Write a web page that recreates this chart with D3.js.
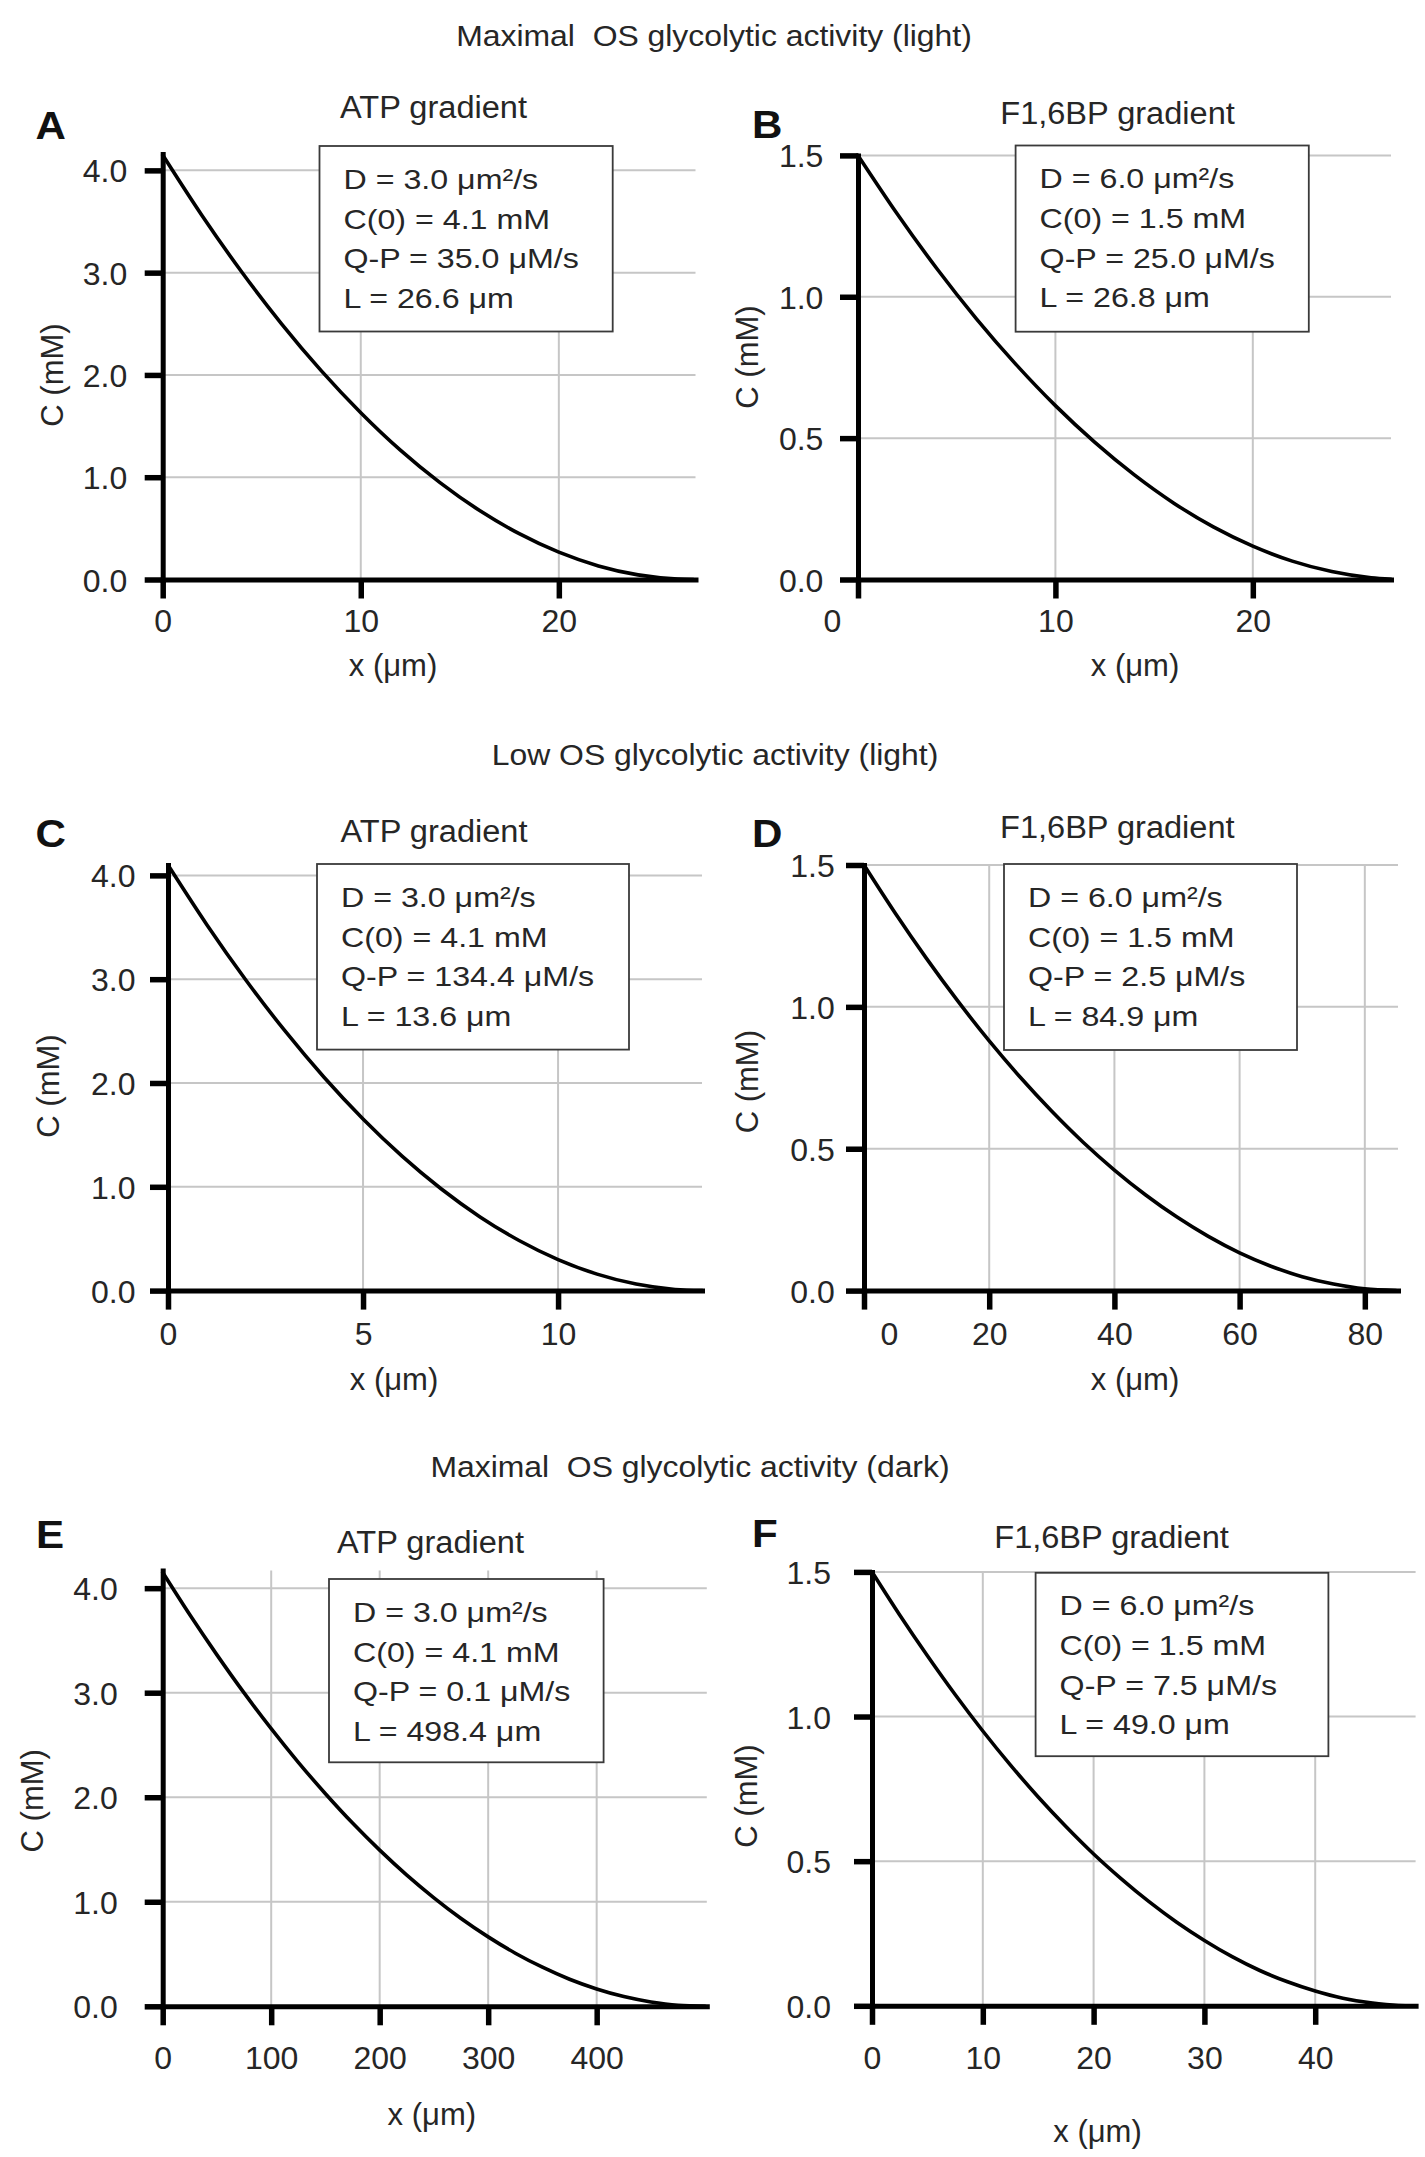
<!DOCTYPE html>
<html><head><meta charset="utf-8">
<script src="https://cdn.jsdelivr.net/npm/d3@7"></script>
<style>body{margin:0;background:#fff}svg{display:block;background:#fff}text{white-space:pre}</style>
</head><body><svg id="chart" width="1425" height="2157"></svg>
<script>
// ---------- DATA ----------
const rowTitles = ["Maximal  OS glycolytic activity (light)", "Low OS glycolytic activity (light)", "Maximal  OS glycolytic activity (dark)"];
const panelIds = ["A", "B", "C", "D", "E", "F"];
const panelTitles = ["ATP gradient", "F1,6BP gradient", "ATP gradient", "F1,6BP gradient", "ATP gradient", "F1,6BP gradient"];

// A: ATP, maximal (light)
const xA = [0, 2, 4, 6, 8, 10, 12, 14, 16, 18, 20, 22, 24, 26, 26.8];
const cA = [4.15, 3.554, 3.004, 2.500, 2.042, 1.631, 1.265, 0.947, 0.674, 0.448, 0.267, 0.133, 0.045, 0.004, 0];
// B: F1,6BP, maximal (light)
const xB = [0, 2, 4, 6, 8, 10, 12, 14, 16, 18, 20, 22, 24, 26, 27];
const cB = [1.50, 1.292, 1.099, 0.922, 0.761, 0.615, 0.485, 0.370, 0.270, 0.186, 0.118, 0.065, 0.028, 0.006, 0.001];
// C: ATP, low (light)
const xC = [0, 1, 2, 3, 4, 5, 6, 7, 8, 9, 10, 11, 12, 13, 13.7];
const cC = [4.10, 3.523, 2.990, 2.501, 2.055, 1.653, 1.295, 0.981, 0.710, 0.483, 0.299, 0.159, 0.063, 0.011, 0];
// D: F1,6BP, low (light)
const xD = [0, 5, 10, 15, 20, 25, 30, 35, 40, 45, 50, 55, 60, 65, 70, 75, 80, 85];
const cD = [1.50, 1.330, 1.170, 1.020, 0.880, 0.751, 0.632, 0.523, 0.425, 0.337, 0.259, 0.191, 0.133, 0.086, 0.049, 0.023, 0.006, 0];
// E: ATP, maximal (dark)
const xE = [0, 25, 50, 75, 100, 125, 150, 175, 200, 225, 250, 275, 300, 325, 350, 375, 400, 425, 450, 475, 500];
const cE = [4.15, 3.745, 3.362, 2.998, 2.656, 2.334, 2.034, 1.753, 1.494, 1.255, 1.038, 0.840, 0.664, 0.508, 0.374, 0.259, 0.166, 0.093, 0.042, 0.010, 0];
// F: F1,6BP, maximal (dark)
const xF = [0, 2.5, 5, 7.5, 10, 12.5, 15, 17.5, 20, 22.5, 25, 27.5, 30, 32.5, 35, 37.5, 40, 42.5, 45, 47.5, 49];
const cF = [1.50, 1.351, 1.210, 1.076, 0.950, 0.832, 0.722, 0.620, 0.525, 0.439, 0.360, 0.289, 0.226, 0.170, 0.122, 0.083, 0.051, 0.026, 0.010, 0.001, 0];

const legA = ["D = 3.0 \u03bcm\u00b2/s", "C(0) = 4.1 mM", "Q-P = 35.0 \u03bcM/s", "L = 26.6 \u03bcm"];
const legB = ["D = 6.0 \u03bcm\u00b2/s", "C(0) = 1.5 mM", "Q-P = 25.0 \u03bcM/s", "L = 26.8 \u03bcm"];
const legC = ["D = 3.0 \u03bcm\u00b2/s", "C(0) = 4.1 mM", "Q-P = 134.4 \u03bcM/s", "L = 13.6 \u03bcm"];
const legD = ["D = 6.0 \u03bcm\u00b2/s", "C(0) = 1.5 mM", "Q-P = 2.5 \u03bcM/s", "L = 84.9 \u03bcm"];
const legE = ["D = 3.0 \u03bcm\u00b2/s", "C(0) = 4.1 mM", "Q-P = 0.1 \u03bcM/s", "L = 498.4 \u03bcm"];
const legF = ["D = 6.0 \u03bcm\u00b2/s", "C(0) = 1.5 mM", "Q-P = 7.5 \u03bcM/s", "L = 49.0 \u03bcm"];

const xTicksA = [0, 10, 20];
const xTicksB = [0, 10, 20];
const xTicksC = [0, 5, 10];
const xTicksD = [0, 20, 40, 60, 80];
const xTicksE = [0, 100, 200, 300, 400];
const xTicksF = [0, 10, 20, 30, 40];
const yTicksATP = [0, 1, 2, 3, 4];
const yTicksFBP = [0, 0.5, 1, 1.5];
const xDomainMax = [26.9, 27, 13.69, 85.3, 501.5, 49.06];
const yDomainMax = [4.16, 1.5, 4.1, 1.5, 4.17, 1.5];
const xAxisLabel = "x (\u03bcm)";
const yAxisLabel = "C (mM)";

const series = [
  {x: xA, c: cA, leg: legA, xt: xTicksA, yt: yTicksATP},
  {x: xB, c: cB, leg: legB, xt: xTicksB, yt: yTicksFBP},
  {x: xC, c: cC, leg: legC, xt: xTicksC, yt: yTicksATP},
  {x: xD, c: cD, leg: legD, xt: xTicksD, yt: yTicksFBP},
  {x: xE, c: cE, leg: legE, xt: xTicksE, yt: yTicksATP},
  {x: xF, c: cF, leg: legF, xt: xTicksF, yt: yTicksFBP}
];

// ---------- LAYOUT (pixels) ----------
const rowTitlePos = [[714, 46], [715, 765], [690, 1476.5]];
const layout = [
  {xr:[162.7,695.5], yr:[579.5,154],   title:[433.5,117.5], letter:[35.5,139], box:[319.5,146,293.2,185.5], ylab:[63,375],    xlab:[393,676],    tickY:52.2, yGap:35.4, zeroShift:0},
  {xr:[858,1391],    yr:[579.5,155.4], title:[1117.5,124],  letter:[752,138],  box:[1015.6,145.5,293.2,186.2], ylab:[757.5,357], xlab:[1135,676],   tickY:52.2, yGap:34.6, zeroShift:-26},
  {xr:[168,702],     yr:[1290.6,865],  title:[434,842],     letter:[35.5,847], box:[317,864,312,185.6],     ylab:[59,1086],   xlab:[394,1389.7], tickY:54.4, yGap:32.5, zeroShift:0},
  {xr:[864,1398],    yr:[1290.6,865],  title:[1117.3,838.4],letter:[752,847],  box:[1004,864,293,186],      ylab:[757.5,1081.7], xlab:[1135,1389.7], tickY:54.4, yGap:29.3, zeroShift:25},
  {xr:[162.7,706.8], yr:[2006.3,1570.4], title:[430.5,1552.6], letter:[36,1547.8], box:[329,1579,274.6,183.3], ylab:[43,1800.8], xlab:[431.8,2125], tickY:62.5, yGap:45, zeroShift:0},
  {xr:[872,1415.6],  yr:[2005.8,1571.9], title:[1111.5,1547.9], letter:[752,1547], box:[1035.6,1572.8,292.8,183.4], ylab:[756.5,1796], xlab:[1097.5,2141.7], tickY:63, yGap:41, zeroShift:0}
];
const legendLineY = [42.5, 82.5, 122, 161.5];

const FONT = "'Liberation Sans', Arial, Helvetica, sans-serif";
const TXT = "#262626";
const GRID = "#c6c6c6";

const svg = d3.select("#chart");

function label(g, str, x, y, o) {
  return g.append("text")
    .attr("transform", `translate(${x},${y})${o.rot ? " rotate(-90)" : ""} scale(${o.sx || 1},1)`)
    .attr("text-anchor", o.anchor || "middle")
    .attr("xml:space", "preserve")
    .attr("font-family", FONT)
    .attr("font-size", o.size)
    .attr("font-weight", o.weight || "normal")
    .attr("fill", TXT)
    .text(str);
}

rowTitles.forEach((t, i) => label(svg, t, rowTitlePos[i][0], rowTitlePos[i][1], {size: 29, sx: 1.1}));

series.forEach((p, i) => {
  const L = layout[i];
  const x = d3.scaleLinear().domain([0, xDomainMax[i]]).range(L.xr);
  const y = d3.scaleLinear().domain([0, yDomainMax[i]]).range(L.yr);
  const g = svg.append("g");

  // gridlines
  g.append("g").selectAll("line").data(p.xt.filter(v => v > 0)).join("line")
    .attr("x1", d => x(d)).attr("x2", d => x(d))
    .attr("y1", y(0)).attr("y2", y(yDomainMax[i]))
    .attr("stroke", GRID).attr("stroke-width", 2);
  g.append("g").selectAll("line").data(p.yt.filter(v => v > 0)).join("line")
    .attr("x1", x(0)).attr("x2", x(xDomainMax[i]))
    .attr("y1", d => y(d)).attr("y2", d => y(d))
    .attr("stroke", GRID).attr("stroke-width", 2);

  // legend box
  const b = L.box;
  g.append("rect").attr("x", b[0]).attr("y", b[1]).attr("width", b[2]).attr("height", b[3])
    .attr("fill", "#fff").attr("stroke", "#3a3a3a").attr("stroke-width", 1.8);
  p.leg.forEach((s, k) => label(g, s, b[0] + 24, b[1] + legendLineY[k], {size: 28.5, sx: 1.13, anchor: "start"}));

  // curve
  g.append("path").datum(d3.zip(p.x, p.c))
    .attr("d", d3.line().x(d => x(d[0])).y(d => y(d[1])).curve(d3.curveMonotoneX))
    .attr("fill", "none").attr("stroke", "#000").attr("stroke-width", 3.6)
    .attr("stroke-linejoin", "round").attr("stroke-linecap", "round");

  // axes
  const ax = g.append("g").attr("transform", `translate(0,${y(0)})`)
    .call(d3.axisBottom(x).tickValues(p.xt).tickSize(19).tickSizeOuter(0).tickFormat(d3.format("d")));
  const ay = g.append("g").attr("transform", `translate(${x(0)},0)`)
    .call(d3.axisLeft(y).tickValues(p.yt).tickSize(18).tickSizeOuter(0).tickFormat(d3.format(".1f")));
  [ax, ay].forEach(a => {
    a.attr("color", "#000").attr("font-size", null).attr("font-family", null);
    a.select(".domain").attr("stroke-width", 5).attr("stroke-linecap", "square");
    a.selectAll(".tick line").attr("stroke-width", 5.5);
    a.selectAll(".tick text").attr("font-family", FONT).attr("font-size", 32).attr("fill", TXT);
  });
  ax.selectAll(".tick text").attr("y", L.tickY).attr("dy", 0).attr("x", d => d === 0 ? L.zeroShift : 0);
  ay.selectAll(".tick text").attr("x", -L.yGap).attr("dy", "0.36em");

  // titles and labels
  label(g, panelTitles[i], L.title[0], L.title[1], {size: 31, sx: 1.05});
  label(g, panelIds[i], L.letter[0], L.letter[1], {size: 39, weight: "bold", anchor: "start", sx: 1.08}).attr("fill", "#111");
  label(g, yAxisLabel, L.ylab[0], L.ylab[1], {size: 31, rot: true});
  label(g, xAxisLabel, L.xlab[0], L.xlab[1], {size: 31});
});
</script>
</body></html>
